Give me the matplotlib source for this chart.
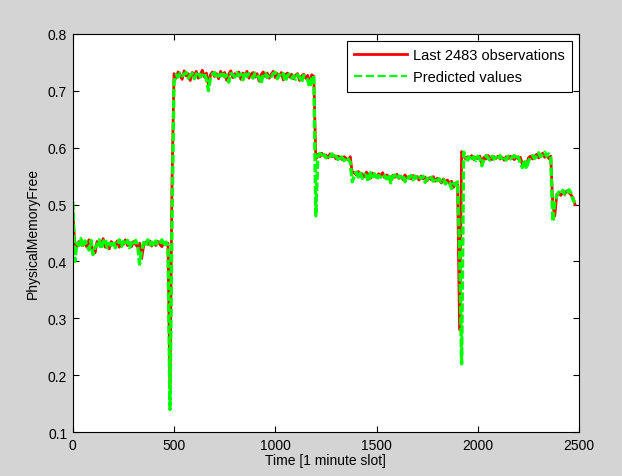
import numpy as np
import matplotlib
matplotlib.use("Agg")
import matplotlib.pyplot as plt

# observed / predicted values, one sample every 10 minutes, split by regime
obs_a = [0.490, 0.430, 0.425, 0.435, 0.430, 0.428, 0.432, 0.425, 0.438, 0.430,
         0.420, 0.415, 0.435, 0.430, 0.428, 0.440, 0.425, 0.430, 0.422, 0.435,
         0.430, 0.428, 0.436, 0.425, 0.432, 0.430, 0.438, 0.428, 0.433, 0.426,
         0.435, 0.430, 0.425, 0.432, 0.405, 0.428, 0.434, 0.430, 0.436, 0.427,
         0.432, 0.428, 0.435, 0.430, 0.426, 0.433, 0.429, 0.432]
pred_a = [0.505, 0.400, 0.432, 0.428, 0.440, 0.425, 0.436, 0.430, 0.420, 0.437,
          0.412, 0.425, 0.428, 0.438, 0.422, 0.434, 0.440, 0.424, 0.432, 0.428,
          0.436, 0.424, 0.430, 0.438, 0.426, 0.435, 0.429, 0.437, 0.424, 0.433,
          0.428, 0.437, 0.430, 0.395, 0.420, 0.433, 0.427, 0.438, 0.429, 0.434,
          0.426, 0.436, 0.429, 0.433, 0.438, 0.427, 0.434, 0.428]
obs_s1 = [0.180, 0.540]
pred_s1 = [0.140, 0.470]
obs_b = [0.730, 0.722, 0.733, 0.728, 0.720, 0.735, 0.726, 0.730, 0.718, 0.732,
         0.727, 0.734, 0.722, 0.729, 0.736, 0.724, 0.731, 0.710, 0.728, 0.733,
         0.725, 0.730, 0.721, 0.734, 0.727, 0.732, 0.718, 0.729, 0.735, 0.723,
         0.730, 0.726, 0.733, 0.720, 0.731, 0.727, 0.734, 0.722, 0.729, 0.732,
         0.724, 0.730, 0.717, 0.728, 0.733, 0.725, 0.731, 0.722, 0.729, 0.734,
         0.723, 0.730, 0.726, 0.732, 0.719, 0.728, 0.731, 0.724, 0.729, 0.721,
         0.727, 0.730, 0.718, 0.726, 0.729, 0.722, 0.727, 0.713, 0.728, 0.725]
pred_b = [0.715, 0.728, 0.724, 0.731, 0.726, 0.729, 0.732, 0.722, 0.727, 0.730,
          0.721, 0.729, 0.733, 0.724, 0.728, 0.731, 0.720, 0.700, 0.723, 0.729,
          0.732, 0.722, 0.728, 0.726, 0.733, 0.724, 0.727, 0.715, 0.730, 0.728,
          0.724, 0.732, 0.726, 0.729, 0.719, 0.733, 0.725, 0.730, 0.727, 0.722,
          0.731, 0.726, 0.724, 0.712, 0.729, 0.731, 0.723, 0.728, 0.725, 0.730,
          0.732, 0.721, 0.728, 0.725, 0.730, 0.716, 0.727, 0.729, 0.722, 0.726,
          0.720, 0.728, 0.724, 0.715, 0.727, 0.725, 0.719, 0.706, 0.722, 0.726]
obs_s2 = [0.580]
pred_s2 = [0.480]
obs_c = [0.588, 0.584, 0.590, 0.585, 0.587, 0.582, 0.589, 0.584, 0.586, 0.580,
         0.585, 0.583, 0.579, 0.584, 0.581, 0.578, 0.584]
pred_c = [0.585, 0.590, 0.583, 0.588, 0.582, 0.587, 0.584, 0.589, 0.581, 0.585,
          0.579, 0.586, 0.582, 0.577, 0.583, 0.580, 0.574]
obs_s3 = [0.555]
pred_s3 = [0.540]
obs_d = [0.556, 0.552, 0.558, 0.550, 0.554, 0.549, 0.557, 0.552, 0.546, 0.555,
         0.551, 0.548, 0.554, 0.550, 0.556, 0.547, 0.552, 0.549, 0.541, 0.551,
         0.548, 0.553, 0.546, 0.550, 0.544, 0.552, 0.547, 0.549, 0.545, 0.551,
         0.546, 0.549, 0.543, 0.550, 0.545, 0.548, 0.542, 0.547, 0.544, 0.549,
         0.541, 0.546, 0.543, 0.538, 0.545, 0.540, 0.543, 0.537, 0.541, 0.530,
         0.538, 0.535]
pred_d = [0.550, 0.557, 0.548, 0.555, 0.546, 0.553, 0.551, 0.540, 0.556, 0.549,
          0.554, 0.544, 0.551, 0.548, 0.553, 0.550, 0.545, 0.553, 0.538, 0.549,
          0.552, 0.545, 0.550, 0.547, 0.552, 0.540, 0.549, 0.546, 0.551, 0.543,
          0.550, 0.544, 0.548, 0.546, 0.550, 0.539, 0.546, 0.543, 0.548, 0.541,
          0.547, 0.542, 0.545, 0.540, 0.544, 0.536, 0.541, 0.539, 0.528, 0.537,
          0.534, 0.540]
obs_s4 = [0.280, 0.593]
pred_s4 = [0.420, 0.220]
obs_e = [0.585, 0.580, 0.584, 0.582, 0.586, 0.579, 0.583, 0.581, 0.585, 0.572,
         0.583, 0.580, 0.586, 0.582, 0.579, 0.584, 0.581, 0.585, 0.580, 0.583,
         0.578, 0.584, 0.581, 0.585, 0.582, 0.579, 0.584, 0.580, 0.583, 0.570,
         0.575, 0.568, 0.582, 0.585, 0.580, 0.584, 0.588, 0.582, 0.586, 0.590,
         0.583, 0.587, 0.581, 0.585]
pred_e = [0.592, 0.583, 0.578, 0.586, 0.581, 0.584, 0.577, 0.585, 0.580, 0.568,
          0.579, 0.586, 0.582, 0.578, 0.585, 0.580, 0.583, 0.579, 0.586, 0.581,
          0.584, 0.578, 0.585, 0.580, 0.583, 0.586, 0.579, 0.584, 0.572, 0.565,
          0.578, 0.563, 0.576, 0.583, 0.586, 0.581, 0.585, 0.591, 0.584, 0.588,
          0.592, 0.585, 0.589, 0.583]
obs_s5 = [0.500, 0.480]
pred_s5 = [0.470, 0.505]
obs_f = [0.518, 0.520, 0.516, 0.522, 0.519, 0.524, 0.521, 0.517, 0.512, 0.500]
pred_f = [0.515, 0.522, 0.519, 0.525, 0.517, 0.521, 0.526, 0.520, 0.508, 0.503]

step = 10  # minutes between samples

observed = np.concatenate([obs_a, obs_s1, obs_b, obs_s2, obs_c, obs_s3,
                           obs_d, obs_s4, obs_e, obs_s5, obs_f])
predicted = np.concatenate([pred_a, pred_s1, pred_b, pred_s2, pred_c, pred_s3,
                            pred_d, pred_s4, pred_e, pred_s5, pred_f])
t = np.arange(len(observed)) * step

plt.rcParams["font.family"] = ["Liberation Sans", "DejaVu Sans"]
plt.rcParams["font.size"] = 10

fig = plt.figure(figsize=(6.22, 4.77), dpi=100, facecolor="#d4d4d4")
ax = fig.add_axes([0.117, 0.092, 0.814, 0.835])
ax.plot(t, observed, color="#ff0000", lw=2, label="Last 2483 observations")
ax.plot(t, predicted, color="#00ff00", lw=2.4, ls=(0, (2.5, 0.8)),
        label="Predicted values")

ax.set_xlim(0, 2500)
ax.set_ylim(0.1, 0.8)
ax.set_xticks(np.arange(0, 2501, 500))
ax.set_yticks(np.arange(0.1, 0.81, 0.1))
ax.yaxis.set_major_formatter(matplotlib.ticker.FormatStrFormatter("%.1f"))
ax.tick_params(direction="in", top=True, right=True, length=4, width=0.8,
               labelsize=10, colors="black", pad=4)
for s in ax.spines.values():
    s.set_linewidth(0.8)

ax.set_xlabel("Time [1 minute slot]", fontsize=10, labelpad=1)
ax.set_ylabel("PhysicalMemoryFree", fontsize=10, labelpad=6)

leg = ax.legend(loc="upper right", fancybox=False, framealpha=1,
                edgecolor="black", fontsize=10.5, handlelength=3.6,
                handletextpad=0.4, borderaxespad=0.5, borderpad=0.5,
                labelspacing=0.55)
leg.get_frame().set_linewidth(0.8)
leg.get_lines()[0].set_linewidth(2)
leg.get_lines()[1].set_linewidth(1.6)
leg.get_lines()[1].set_linestyle("--")

fig.savefig("out.png", dpi=100, facecolor=fig.get_facecolor())
